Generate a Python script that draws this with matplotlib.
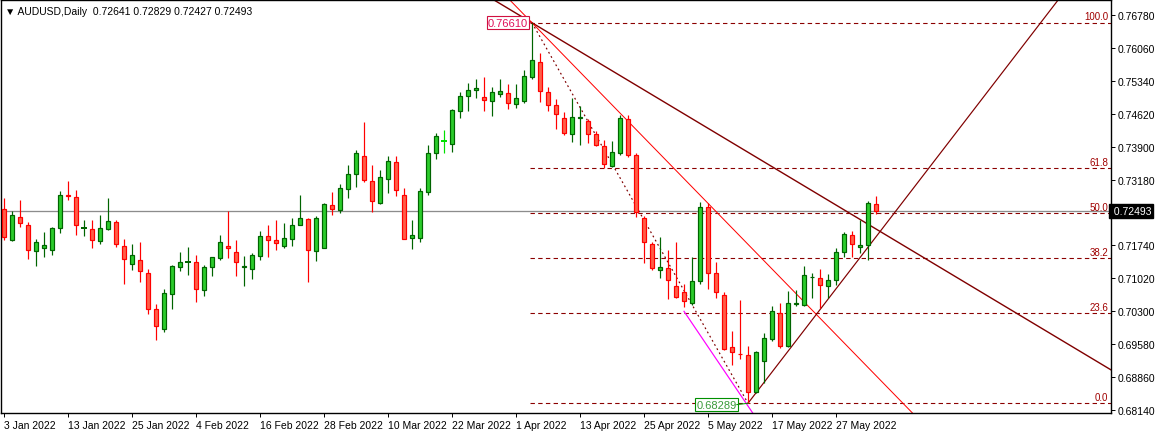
import matplotlib
matplotlib.use("Agg")
import matplotlib.pyplot as plt

plt.rcParams['font.family'] = ['Liberation Sans', 'DejaVu Sans']

# daily AUDUSD candles
opens = [0.72537, 0.71866, 0.72356, 0.72181, 0.71612, 0.71678, 0.71634, 0.72115, 0.72837, 0.72793,
         0.72111, 0.72093, 0.71831, 0.72093, 0.72246, 0.71722, 0.71328, 0.71415, 0.71131, 0.70344,
         0.69906, 0.70672, 0.71262, 0.71385, 0.71372, 0.70759, 0.71262, 0.71459, 0.71722, 0.71590,
         0.71275, 0.71232, 0.71503, 0.71940, 0.71853, 0.71722, 0.71875, 0.72181, 0.72312, 0.71612,
         0.71678, 0.72618, 0.72509, 0.72968, 0.73296, 0.73690, 0.73143, 0.72662, 0.73187, 0.73559,
         0.72837, 0.71897, 0.71897, 0.72903, 0.73755, 0.74018, 0.73952, 0.74674, 0.75002, 0.75133,
         0.74980, 0.74893, 0.75046, 0.75068, 0.74827, 0.74893, 0.75418, 0.75746, 0.75089, 0.74805,
         0.74521, 0.74171, 0.74534, 0.74455, 0.74171, 0.73909, 0.73471, 0.73755, 0.74499, 0.73712,
         0.72334, 0.71765, 0.71197, 0.71240, 0.70847, 0.70716, 0.70475, 0.70956, 0.72574, 0.71131,
         0.70650, 0.69513, 0.69366, 0.69338, 0.68530, 0.69206, 0.69688, 0.70256, 0.69535, 0.70460,
         0.70431, 0.71050, 0.71022, 0.70847, 0.70978, 0.71590, 0.71962, 0.71700, 0.71743, 0.72641]
highs = [0.72778, 0.72500, 0.72734, 0.72246, 0.71881, 0.72034, 0.72137, 0.72931, 0.73150, 0.72953,
         0.72297, 0.72297, 0.72406, 0.72778, 0.72297, 0.71881, 0.71765, 0.71809, 0.71219, 0.70453,
         0.70781, 0.71306, 0.71590, 0.71700, 0.71525, 0.71306, 0.71481, 0.71962, 0.72500, 0.71853,
         0.71503, 0.71568, 0.72056, 0.72187, 0.72297, 0.72231, 0.72340, 0.72843, 0.72334, 0.72378,
         0.72668, 0.72903, 0.73077, 0.73493, 0.73821, 0.74433, 0.73493, 0.73384, 0.73690, 0.73690,
         0.72990, 0.72290, 0.72990, 0.73930, 0.74193, 0.74258, 0.74718, 0.75089, 0.75286, 0.75374,
         0.75418, 0.75199, 0.75374, 0.75265, 0.75265, 0.75571, 0.76610, 0.75943, 0.75199, 0.74936,
         0.74652, 0.74958, 0.74783, 0.74499, 0.74237, 0.74040, 0.74018, 0.74587, 0.74587, 0.73755,
         0.72378, 0.71809, 0.71918, 0.71634, 0.71809, 0.70891, 0.71481, 0.72684, 0.72662, 0.71372,
         0.70716, 0.69863, 0.70541, 0.69535, 0.69425, 0.69819, 0.70409, 0.70475, 0.70738, 0.70759,
         0.71284, 0.71131, 0.71219, 0.71109, 0.71678, 0.72028, 0.72050, 0.72290, 0.72706, 0.72829]
lows = [0.71866, 0.71844, 0.72150, 0.71450, 0.71297, 0.71494, 0.71538, 0.72006, 0.72741, 0.71975,
        0.71953, 0.71691, 0.71778, 0.72071, 0.71713, 0.70904, 0.71210, 0.70947, 0.70234, 0.69679,
        0.69854, 0.70344, 0.71181, 0.71100, 0.70510, 0.70641, 0.71065, 0.71415, 0.71472, 0.71079,
        0.70860, 0.71013, 0.71429, 0.71494, 0.71647, 0.71678, 0.71722, 0.72181, 0.70947, 0.71407,
        0.71678, 0.72400, 0.72443, 0.72771, 0.73012, 0.73121, 0.72465, 0.72640, 0.72881, 0.72828,
        0.71875, 0.71656, 0.71809, 0.72837, 0.73624, 0.73755, 0.73777, 0.74521, 0.74674, 0.74958,
        0.74674, 0.74565, 0.74980, 0.74718, 0.74740, 0.74849, 0.75374, 0.74871, 0.74674, 0.74280,
        0.74149, 0.73996, 0.73930, 0.73974, 0.73909, 0.73427, 0.73449, 0.73712, 0.73668, 0.72356,
        0.71350, 0.71197, 0.71022, 0.70563, 0.70585, 0.70388, 0.70431, 0.70891, 0.70781, 0.70585,
        0.69447, 0.69119, 0.69250, 0.68289, 0.68508, 0.68727, 0.69644, 0.69491, 0.69513, 0.70409,
        0.70409, 0.70585, 0.70366, 0.70585, 0.70869, 0.71481, 0.71481, 0.71568, 0.71415, 0.72427]
closes = [0.71918, 0.72406, 0.72225, 0.71634, 0.71809, 0.71743, 0.72115, 0.72837, 0.72815, 0.72181,
          0.72115, 0.71853, 0.72115, 0.72268, 0.71765, 0.71437, 0.71525, 0.71175, 0.70344, 0.69972,
          0.70694, 0.71284, 0.71372, 0.71385, 0.70781, 0.71262, 0.71481, 0.71809, 0.71678, 0.71372,
          0.71284, 0.71525, 0.71940, 0.71866, 0.71787, 0.71897, 0.72181, 0.72334, 0.71634, 0.72334,
          0.72640, 0.72531, 0.72990, 0.73296, 0.73755, 0.73165, 0.72706, 0.73231, 0.73581, 0.72946,
          0.71875, 0.71962, 0.72924, 0.73755, 0.74127, 0.74018, 0.74696, 0.75002, 0.75133, 0.75177,
          0.74915, 0.75089, 0.75111, 0.74849, 0.74958, 0.75440, 0.75790, 0.75111, 0.74805, 0.74608,
          0.74193, 0.74543, 0.74543, 0.74171, 0.73930, 0.73515, 0.73777, 0.74521, 0.73712, 0.72465,
          0.71809, 0.71240, 0.71262, 0.70978, 0.70607, 0.70519, 0.70956, 0.72574, 0.71131, 0.70716,
          0.69469, 0.69403, 0.69359, 0.68530, 0.69403, 0.69710, 0.70300, 0.69535, 0.70475, 0.70475,
          0.71088, 0.71057, 0.70869, 0.70978, 0.71590, 0.71984, 0.71765, 0.71743, 0.72662, 0.72493]

date_ticks = [0, 8, 16, 24, 32, 40, 48, 56, 64, 72, 80, 88, 96, 104]
date_labels = ["3 Jan 2022", "13 Jan 2022", "25 Jan 2022", "4 Feb 2022", "16 Feb 2022",
               "28 Feb 2022", "10 Mar 2022", "22 Mar 2022", "1 Apr 2022", "13 Apr 2022",
               "25 Apr 2022", "5 May 2022", "17 May 2022", "27 May 2022"]
price_ticks = [0.76780, 0.76060, 0.75340, 0.74620, 0.73900, 0.73180, 0.71740,
               0.71020, 0.70300, 0.69580, 0.68860, 0.68140]

fib_high, fib_high_bar = 0.76610, 66
fib_low, fib_low_bar = 0.68289, 93
fib_levels = [0.0, 23.6, 38.2, 50.0, 61.8, 100.0]
last_price = 0.72493

DPI = 100
fig = plt.figure(figsize=(11.56, 4.35), dpi=DPI)
ax = fig.add_axes([1 / 1156, 21 / 435, 1110 / 1156, 413 / 435])
ax.set_xlim(-0.375, 138.375)
ax.set_ylim(0.68076, 0.77108)
px = 72 / DPI

# fibo levels
for lv in fib_levels:
    p = fib_low + (fib_high - fib_low) * lv / 100
    ax.plot([fib_high_bar - 0.2, 139], [p, p], color="#8b0000", lw=1.1 * px, ls=(0, (4, 3)), zorder=1)
    ax.text(138.0, p + 0.0003, f"{lv:.1f}", color="#a00000", fontsize=7, ha="right", va="bottom")

ax.axhline(last_price, color="#8c8c8c", lw=1.3 * px, zorder=1)

# trend lines
ax.axline((fib_high_bar, fib_high), (109, 0.7210), color="#800000", lw=1.4 * px, zorder=2)
ax.axline((fib_high_bar, fib_high), (88, 0.72662), color="#ff0000", lw=1.0 * px, zorder=2)
ax.plot([fib_low_bar, 140], [fib_low, fib_low + 47 * 0.002275], color="#800000", lw=1.2 * px, zorder=2)
ax.plot([fib_high_bar, fib_low_bar], [fib_high, fib_low], color="#800000", lw=1.2 * px, ls=(0, (1.5, 2.5)), zorder=2)
ax.plot([85, 94.5], [0.7030, 0.6784], color="#ff00ff", lw=1.2 * px, zorder=2)

# candles
for i, (o, h, l, c) in enumerate(zip(opens, highs, lows, closes)):
    up = c >= o
    edge = "#006400" if up else "#ff0000"
    fill = "#2ccc2c" if up else "#ff5e48"
    if abs(c - o) < 0.00005:
        edge = "#00e000" if i == 55 else edge
        ax.vlines(i, l, h, color=edge, lw=1.2 * px, zorder=3)
        ax.hlines(o, i - 0.35, i + 0.35, color=edge, lw=2 * px, zorder=3)
        continue
    ax.vlines(i, l, h, color=edge, lw=1.2 * px, zorder=3)
    ax.bar(i, abs(c - o), bottom=min(o, c), width=0.6, color=fill, edgecolor=edge,
           linewidth=1.2 * px, zorder=4)

# price labels at the extremes
ax.text(fib_high_bar - 0.5, fib_high, f"{fib_high:.5f}", color="#e0105a", fontsize=8,
        ha="right", va="center", bbox=dict(boxstyle="square,pad=0.12", fc="white", ec="#d01040", lw=0.8))
ax.text(fib_low_bar - 1.4, fib_low - 0.0003, f"{fib_low:.5f}", color="#3a9a3a", fontsize=8,
        ha="right", va="center", bbox=dict(boxstyle="square,pad=0.12", fc="white", ec="#009000", lw=0.8))
ax.plot([fib_low_bar - 1.4, fib_low_bar], [fib_low - 0.0003, fib_low], color="#009000", lw=1 * px, zorder=5)

# axes styling like MT4
ax.yaxis.tick_right()
ax.set_yticks(price_ticks)
ax.set_yticklabels([f"{t:.5f}" for t in price_ticks])
ax.set_xticks(date_ticks)
ax.set_xticklabels(date_labels, ha="left")
ax.tick_params(axis="both", labelsize=7.5, length=3, width=0.7, colors="black", pad=2)
for s in ax.spines.values():
    s.set_linewidth(1.0)
ax.text(1.0, last_price, f" {last_price:.5f}", transform=ax.get_yaxis_transform(), color="white",
        fontsize=7.5, ha="left", va="center", bbox=dict(boxstyle="square,pad=0.15", fc="black", ec="black"))

ax.text(0.004, 0.985, "\u25bc AUDUSD,Daily  0.72641 0.72829 0.72427 0.72493", transform=ax.transAxes,
        fontsize=7.5, ha="left", va="top", color="black")

fig.savefig("out.png", dpi=DPI)
